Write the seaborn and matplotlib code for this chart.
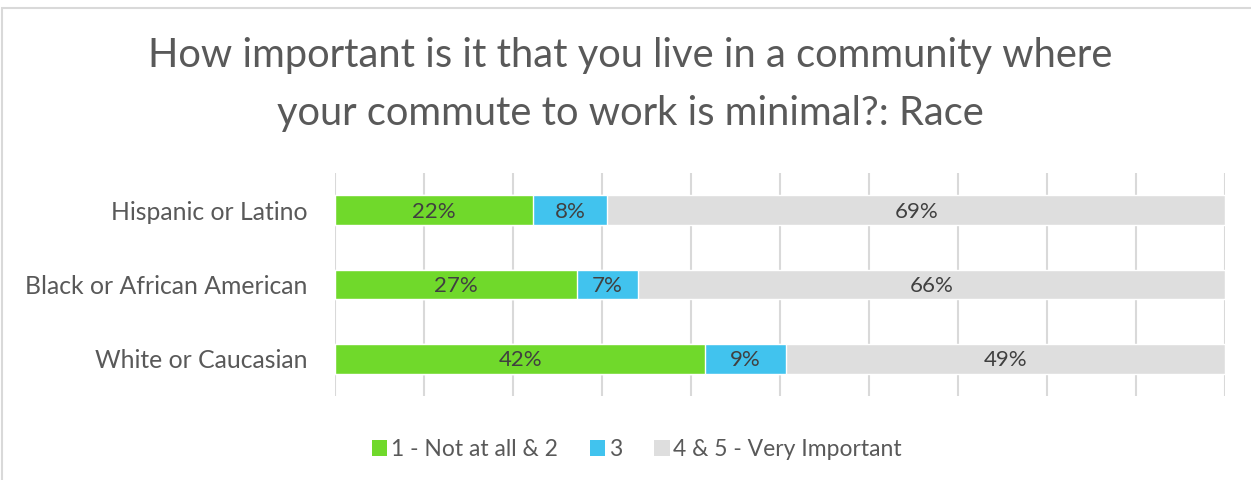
import seaborn as sns
import pandas as pd
import matplotlib.pyplot as plt
from matplotlib.patches import Patch, Rectangle

groups = ['Hispanic or Latino', 'Black or African American', 'White or Caucasian']
series = ['1 - Not at all & 2', '3', '4 & 5 - Very Important']
low = [22.2, 27.2, 41.6]
mid = [8.4, 6.8, 9.1]
high = [69.4, 66.0, 49.3]
colors = ['#70D92B', '#41C3EE', '#DEDEDE']

sns.set_theme(style='white')
plt.rcParams['font.family'] = ['Lato', 'DejaVu Sans']

df = pd.DataFrame({'group': groups, 'low': low, 'mid': mid, 'high': high})
df['c1'] = df['low']
df['c2'] = df['low'] + df['mid']
df['c3'] = df['c2'] + df['high']

fig = plt.figure(figsize=(12.51, 4.8), dpi=100)
ax = fig.add_axes([0.2678, 0.175, 0.7114, 0.4646])

# stacked bars: draw cumulative totals from longest to shortest
for col, c in zip(['c3', 'c2', 'c1'], colors[::-1]):
    sns.barplot(data=df, x=col, y='group', orient='h', color=c,
                width=0.4, saturation=1, ax=ax, zorder=3)

text_c = '#404040'
for i, g in enumerate(groups):
    starts = [0, df['c1'][i], df['c2'][i]]
    vals = [low[i], mid[i], high[i]]
    for s, v in zip(starts, vals):
        ax.text(s + v / 2, i + 0.02, f'{round(v):.0f}%', ha='center', va='center',
                fontsize=16, color=text_c, zorder=4)

ax.set_xlim(0, 100)
ax.set_ylim(2.5, -0.5)
ax.set_xticks(range(0, 101, 10))
ax.set_xticklabels([])
ax.xaxis.grid(True, color='#D9D9D9', linewidth=1.5, zorder=0)
ax.tick_params(axis='both', length=0)
ax.tick_params(axis='y', labelsize=17.8, labelcolor='#595959', pad=20)
ax.set_xlabel('')
ax.set_ylabel('')
for sp in ax.spines.values():
    sp.set_visible(False)

fig.text(0.504, 0.823, 'How important is it that you live in a community where\nyour commute to work is minimal?: Race',
         ha='center', va='center', fontsize=28.7, color='#595959', linespacing=1.7)

handles = [Patch(facecolor=c, edgecolor='none') for c in colors]
fig.legend(handles, series, loc='center', bbox_to_anchor=(0.509, 0.063), ncol=3,
           frameon=False, fontsize=16.5, handlelength=0.68, handleheight=0.68,
           handletextpad=0.15, columnspacing=1.4, labelcolor='#595959')

fig.add_artist(Rectangle((0.0016, -0.2), 1.2, 1.183, transform=fig.transFigure,
                         fill=False, edgecolor='#D9D9D9', linewidth=1.5))

fig.savefig('out.png', dpi=100)
